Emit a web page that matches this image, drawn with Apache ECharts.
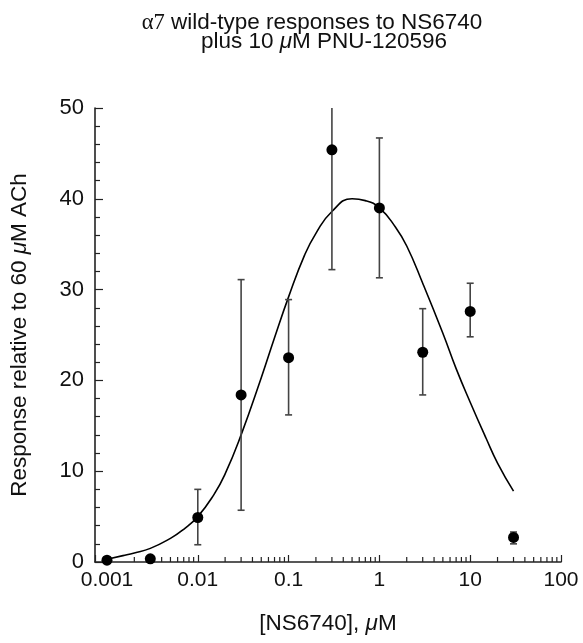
<!DOCTYPE html>
<html>
<head>
<meta charset="utf-8">
<script src="https://cdn.jsdelivr.net/npm/echarts@6/dist/echarts.min.js"></script>
<style>
html,body{margin:0;padding:0;background:#fff;}
#chart{width:583px;height:643px;}
</style>
</head>
<body>
<div id="chart"></div>
<script>
// ---- data ----
const xTickLabels = ['0.001', '0.01', '0.1', '1', '10', '100'];
const yTickLabels = ['0', '10', '20', '30', '40', '50'];

const concentration = [0.001, 0.003, 0.01, 0.03, 0.1, 0.3, 1, 3, 10, 30];
const responseMean  = [0.2, 0.35, 4.9, 18.4, 22.5, 45.4, 39.0, 23.1, 27.6, 2.7];
const errorLow      = [0.2, 0.35, 1.9, 5.7, 16.2, 32.2, 31.3, 18.4, 24.8, 2.0];
const errorHigh     = [0.2, 0.35, 8.0, 31.1, 28.9, 58.6, 46.7, 27.9, 30.7, 3.3];

// fitted curve
const fitConc = [0.001, 0.0015, 0.002, 0.003, 0.005, 0.007, 0.01, 0.015, 0.02, 0.03,
                 0.05, 0.07, 0.1, 0.15, 0.2, 0.3, 0.5, 0.7, 1, 1.5, 2, 3, 5, 7, 10, 15, 20, 30];
const fitResp = [0.3, 0.7, 1.0, 1.5, 2.6, 3.6, 5.0, 7.4, 9.7, 14.0,
                 20.3, 24.7, 29.2, 33.8, 36.2, 38.6, 40.0, 39.8, 39.0, 36.9, 34.8, 30.7, 25.2, 21.3, 17.6, 13.6, 10.9, 7.8];

const minorTickValues = [
  0.002, 0.003, 0.004, 0.005, 0.006, 0.007, 0.008, 0.009,
  0.02, 0.03, 0.04, 0.05, 0.06, 0.07, 0.08, 0.09,
  0.2, 0.3, 0.4, 0.5, 0.6, 0.7, 0.8, 0.9,
  2, 3, 4, 5, 6, 7, 8, 9,
  20, 30, 40, 50, 60, 70, 80, 90
];

const titleLine1 = ['α7', ' wild-type responses to NS6740'];
const titleLine2 = ['plus 10 ', 'μ', 'M PNU-120596'];
const yName = ['Response relative to 60 ', 'μ', 'M ACh'];
const xName = ['[NS6740], ', 'μ', 'M'];

// ---- chart ----
const chart = echarts.init(document.getElementById('chart'), null, {renderer: 'canvas'});
const FONT = 'Liberation Sans, Arial, Helvetica, sans-serif';
const INK = '#111';
const AX = '#222';

const option = {
  backgroundColor: '#fff',
  animation: false,
  title: [
    {
      text: '{s|' + titleLine1[0] + '}' + titleLine1[1],
      left: 312, top: 12, textAlign: 'center', padding: 0,
      textStyle: {fontFamily: FONT, fontSize: 22.5, fontWeight: 'normal', color: INK, lineHeight: 22,
        rich: {s: {fontFamily: 'Liberation Serif, Times New Roman, serif', fontSize: 22.5, color: INK}}}
    },
    {
      text: titleLine2[0] + '{i|' + titleLine2[1] + '}' + titleLine2[2],
      left: 324, top: 31, textAlign: 'center', padding: 0,
      textStyle: {fontFamily: FONT, fontSize: 22.5, fontWeight: 'normal', color: INK, lineHeight: 22,
        rich: {i: {fontFamily: FONT, fontStyle: 'italic', fontSize: 22.5, color: INK}}}
    }
  ],
  grid: {left: 94, right: 22, top: 108, bottom: 81, containLabel: false},
  xAxis: {
    type: 'log', logBase: 10,
    min: 0.000738, max: 100,
    name: xName[0] + '{i|' + xName[1] + '}' + xName[2],
    nameLocation: 'middle', nameGap: 50,
    nameTextStyle: {fontFamily: FONT, fontSize: 22.5, color: INK,
      rich: {i: {fontFamily: FONT, fontStyle: 'italic', fontSize: 22.5, color: INK}}},
    axisLine: {show: true, lineStyle: {color: AX, width: 1.6}},
    axisTick: {show: true, inside: true, length: 7, lineStyle: {color: AX, width: 1.2}},
    minorTick: {show: false},
    splitLine: {show: false},
    axisLabel: {
      fontFamily: FONT, fontSize: 21, color: INK, margin: 8,
      showMinLabel: true, showMaxLabel: true,
      formatter: function (v) {
        const l = Math.log10(v);
        const r = Math.round(l);
        if (Math.abs(l - r) < 1e-6) {
          const idx = r + 3;
          return xTickLabels[idx] !== undefined ? xTickLabels[idx] : '';
        }
        return '';
      }
    }
  },
  yAxis: {
    type: 'value', min: 0, max: 50, interval: 10,
    name: yName[0] + '{i|' + yName[1] + '}' + yName[2],
    nameLocation: 'middle', nameGap: 64,
    nameTextStyle: {fontFamily: FONT, fontSize: 22.5, color: INK,
      rich: {i: {fontFamily: FONT, fontStyle: 'italic', fontSize: 22.5, color: INK}}},
    axisLine: {show: true, lineStyle: {color: AX, width: 1.6}},
    axisTick: {show: true, inside: true, length: 8, lineStyle: {color: AX, width: 1.2}},
    minorTick: {show: true, splitNumber: 5, length: 5, lineStyle: {color: AX, width: 1.2}},
    splitLine: {show: false},
    axisLabel: {
      fontFamily: FONT, fontSize: 22, color: INK, margin: 11,
      formatter: function (v) { return yTickLabels[Math.round(v / 10)]; }
    }
  },
  series: [
    {
      // log-spaced minor ticks on x axis
      type: 'custom', silent: true, z: 3,
      data: minorTickValues.map(v => [v, 0]),
      encode: {x: 0, y: 1},
      renderItem: function (params, api) {
        const p = api.coord([api.value(0), 0]);
        return {type: 'line', shape: {x1: p[0], y1: p[1], x2: p[0], y2: p[1] - 5},
                style: {stroke: AX, lineWidth: 1.2}};
      }
    },
    {
      type: 'line', data: fitConc.map((c, i) => [c, fitResp[i]]),
      smooth: 0.5, showSymbol: false, symbol: 'none',
      lineStyle: {color: '#000', width: 1.6}, z: 4, silent: true
    },
    {
      type: 'custom', clip: true, z: 5, silent: true,
      data: concentration.map((c, i) => [c, errorLow[i], errorHigh[i]]),
      encode: {x: 0, y: [1, 2]},
      renderItem: function (params, api) {
        const x = api.value(0), lo = api.value(1), hi = api.value(2);
        if (hi - lo < 0.01) return null;
        const a = api.coord([x, lo]);
        const b = api.coord([x, hi]);
        const w = 3.5;
        const st = {stroke: '#444', lineWidth: 1.6};
        return {
          type: 'group',
          children: [
            {type: 'line', shape: {x1: a[0], y1: a[1], x2: b[0], y2: b[1]}, style: st},
            {type: 'line', shape: {x1: a[0] - w, y1: a[1], x2: a[0] + w, y2: a[1]}, style: st},
            {type: 'line', shape: {x1: b[0] - w, y1: b[1], x2: b[0] + w, y2: b[1]}, style: st}
          ]
        };
      }
    },
    {
      type: 'scatter', z: 6, silent: true,
      data: concentration.map((c, i) => [c, responseMean[i]]),
      symbol: 'circle', symbolSize: 11,
      itemStyle: {color: '#000', opacity: 1}
    }
  ]
};
chart.setOption(option);
</script>
</body>
</html>
